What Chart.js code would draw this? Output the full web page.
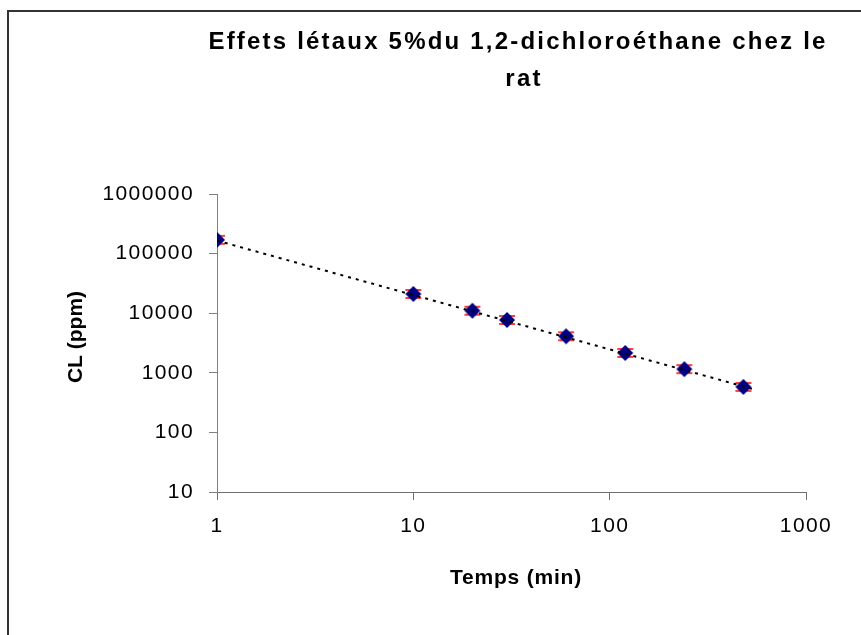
<!DOCTYPE html>
<html>
<head>
<meta charset="utf-8">
<script src="https://cdn.jsdelivr.net/npm/chart.js@4/dist/chart.umd.min.js"></script>
<style>
  body { margin: 0; background: #fff; }
  #cadre { position: absolute; left: 7px; top: 10px; width: 900px; height: 700px;
           border-left: 2px solid #333; border-top: 2px solid #333; }
</style>
</head>
<body>
<div id="cadre"></div>
<canvas id="graphique" width="861" height="635"></canvas>
<script>
// données
const temps = [1, 10, 20, 30, 60, 120, 240, 480]
const cl = [170000, 21000, 11000, 7700, 4100, 2150, 1150, 580]
// courbe de tendance (puissance), extrémités lues
const tendanceX = [1, 530]
const tendanceY = [165000, 540]
const ticksX = [1, 10, 100, 1000]
const ticksY = [10, 100, 1000, 10000, 100000, 1000000]

const titre = ['Effets létaux 5%du 1,2-dichloroéthane chez le', 'rat']
const titreX = 'Temps (min)'
const titreY = 'CL (ppm)'

// marqueur : losange bleu marine avec les petites barres rouges
const marqueur = document.createElement('canvas')
marqueur.width = 20
marqueur.height = 18
const m = marqueur.getContext('2d')
m.strokeStyle = '#ff0000'
m.lineWidth = 1.5
m.beginPath()
m.moveTo(2, 5); m.lineTo(18, 5)
m.moveTo(2, 13); m.lineTo(18, 13)
m.stroke()
m.fillStyle = '#000080'
m.beginPath()
m.moveTo(10, 1); m.lineTo(18, 9); m.lineTo(10, 17); m.lineTo(2, 9)
m.closePath()
m.fill()

const textes = {
  id: 'textes',
  beforeDraw(chart) {
    chart.ctx.letterSpacing = '1.4px'
  },
  afterDraw(chart) {
    const ctx = chart.ctx
    ctx.save()
    ctx.fillStyle = '#000'
    ctx.textAlign = 'center'
    ctx.textBaseline = 'alphabetic'
    ctx.font = 'bold 24px "Liberation Sans", Arial, sans-serif'
    ctx.letterSpacing = '2.2px'
    ctx.fillText(titre[0], 518, 49)
    ctx.fillText(titre[1], 524, 86)
    ctx.font = 'bold 21px "Liberation Sans", Arial, sans-serif'
    ctx.letterSpacing = '0.8px'
    ctx.fillText(titreX, 516, 584)
    ctx.letterSpacing = '0px'
    ctx.translate(82, 337)
    ctx.rotate(-Math.PI / 2)
    ctx.fillText(titreY, 0, 0)
    ctx.restore()
    ctx.letterSpacing = '0px'
  }
}

const points = temps.map((t, i) => ({x: t, y: cl[i]}))
const tendance = tendanceX.map((t, i) => ({x: t, y: tendanceY[i]}))

const policeTicks = {family: '"Liberation Sans", Arial, sans-serif', size: 21}

new Chart(document.getElementById('graphique'), {
  type: 'scatter',
  data: {
    datasets: [
      {
        label: 'tendance',
        data: tendance,
        showLine: true,
        borderColor: '#000',
        borderWidth: 2,
        borderDash: [3, 5],
        pointRadius: 0,
        order: 0
      },
      {
        label: 'CL',
        data: points,
        pointStyle: marqueur,
        pointRadius: 9,
        order: 1
      }
    ]
  },
  options: {
    responsive: false,
    animation: false,
    layout: {padding: {left: 0, right: 55, top: 194, bottom: 0}},
    plugins: {legend: {display: false}, tooltip: {enabled: false}, title: {display: false}},
    scales: {
      x: {
        type: 'logarithmic',
        min: 1,
        max: 1000,
        afterBuildTicks: (s) => { s.ticks = ticksX.map(v => ({value: v})) },
        afterFit: (s) => { s.height = 143 },
        ticks: {callback: (v) => String(v), color: '#000', font: policeTicks, padding: 14, maxRotation: 0},
        grid: {drawOnChartArea: false, drawTicks: true, tickLength: 8, color: '#6e6e6e'},
        border: {color: '#6e6e6e', width: 1}
      },
      y: {
        type: 'logarithmic',
        min: 10,
        max: 1000000,
        afterBuildTicks: (s) => { s.ticks = ticksY.map(v => ({value: v})) },
        afterFit: (s) => { s.width = 217 },
        ticks: {callback: (v) => String(v), color: '#000', font: policeTicks, padding: 15},
        grid: {drawOnChartArea: false, drawTicks: true, tickLength: 8, color: '#808080'},
        border: {color: '#808080', width: 1}
      }
    }
  },
  plugins: [textes]
})
</script>
</body>
</html>
